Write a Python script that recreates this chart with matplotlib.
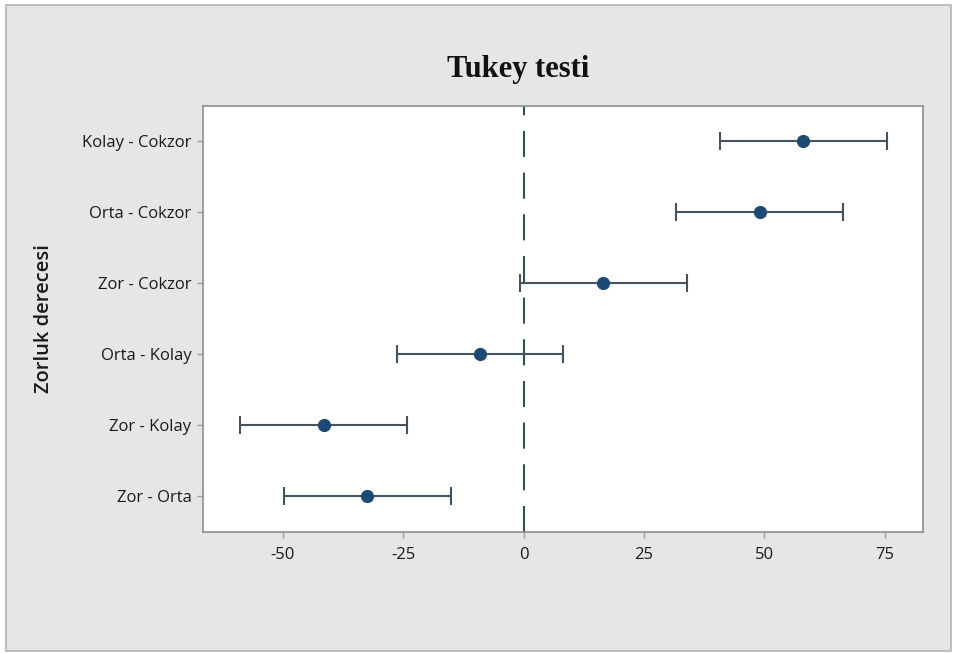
import matplotlib.pyplot as plt
from matplotlib.patches import Rectangle

plt.rcParams["axes.unicode_minus"] = False

# Tukey simultaneous intervals
comparisons = ["Zor - Orta", "Zor - Kolay", "Orta - Kolay",
               "Zor - Cokzor", "Orta - Cokzor", "Kolay - Cokzor"]
centers = [-32.45, -41.5, -9.05, 16.55, 49.0, 58.05]
lower = [-49.75, -58.8, -26.3, -0.7, 31.7, 40.8]
upper = [-15.15, -24.2, 8.25, 33.85, 66.35, 75.35]
xticks = [-50, -25, 0, 25, 50, 75]

fig = plt.figure(figsize=(9.54, 6.53), dpi=100, facecolor="white")
bg = Rectangle((0.006, 0.003), 0.991, 0.99, transform=fig.transFigure,
               facecolor="#e6e6e6", edgecolor="#b4b4b4", linewidth=1.2, zorder=-10)
fig.patches.append(bg)

ax = fig.add_axes([0.2124, 0.1853, 0.7551, 0.6524])
ax.set_facecolor("white")

ypos = list(range(len(comparisons)))
xerr = [[c - lo for c, lo in zip(centers, lower)],
        [up - c for c, up in zip(centers, upper)]]
ax.errorbar(centers, ypos, xerr=xerr, fmt="none", ecolor="#44535e",
            elinewidth=1.5, capsize=6.5, capthick=1.5, zorder=3)
ax.plot(centers, ypos, "o", color="#1c4a75", markersize=8.5, zorder=4)
ax.axvline(0, color="#2f5444", linewidth=1.5, dashes=(12.5, 7.5), zorder=2)

ax.set_xlim(-66.6, 82.9)
ax.set_ylim(-0.5, 5.5)
ax.set_xticks(xticks)
ax.set_yticks(ypos)
ax.set_yticklabels(comparisons)

for spine in ax.spines.values():
    spine.set_color("#8e8e8e")
    spine.set_linewidth(1.2)
ax.tick_params(axis="both", direction="out", length=4, width=1, color="#9a9a9a",
               labelcolor="#1a1a1a", labelsize=12)
ax.tick_params(axis="y", pad=4)
ax.tick_params(axis="x", pad=7)
for lab in ax.get_xticklabels() + ax.get_yticklabels():
    lab.set_fontfamily("Open Sans")

ax.set_ylabel("Zorluk derecesi", fontsize=14.5, fontfamily="Open Sans",
              fontweight="semibold", color="#1a1a1a")
ax.yaxis.set_label_coords(-0.207, 0.5)

fig.text(0.543, 0.882, "Tukey testi", ha="center", va="baseline", fontsize=22,
         fontfamily="Liberation Serif", fontweight="bold", color="#111111")

fig.savefig("out.png", dpi=100, facecolor=fig.get_facecolor())
